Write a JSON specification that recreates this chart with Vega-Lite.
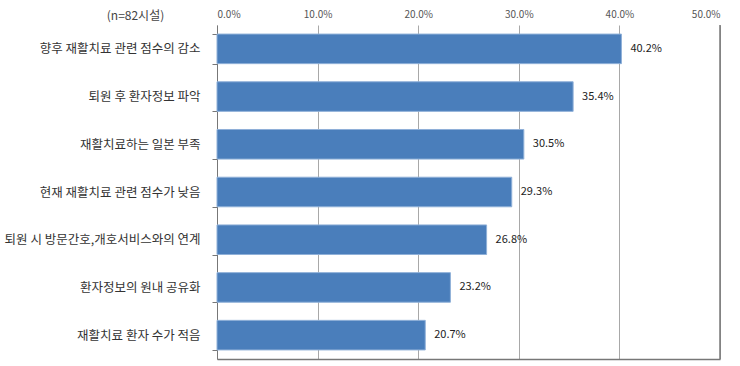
{
  "$schema": "https://vega.github.io/schema/vega-lite/v6.json",
  "autosize": "none",
  "width": 503,
  "height": 334,
  "padding": {"left": 217, "top": 25, "right": 20, "bottom": 7},
  "background": "white",
  "config": {
    "font": "Noto Sans CJK KR",
    "view": {"stroke": null}
  },
  "data": {
    "values": [
      {"item": "향후 재활치료 관련 점수의 감소", "pct": 0.402},
      {"item": "퇴원 후 환자정보 파악", "pct": 0.354},
      {"item": "재활치료하는 일본 부족", "pct": 0.305},
      {"item": "현재 재활치료 관련 점수가 낮음", "pct": 0.293},
      {"item": "퇴원 시 방문간호,개호서비스와의 연계", "pct": 0.268},
      {"item": "환자정보의 원내 공유화", "pct": 0.232},
      {"item": "재활치료 환자 수가 적음", "pct": 0.207}
    ]
  },
  "layer": [
    {
      "mark": {"type": "bar", "color": "#4a7ebb", "stroke": "#8fb0d8", "strokeWidth": 1},
      "encoding": {
        "y": {
          "field": "item", "type": "nominal", "sort": null,
          "scale": {"paddingInner": 0.38, "paddingOuter": 0.19},
          "axis": {
            "title": "(n=82시설)",
            "titleAngle": 0,
            "titleAlign": "center",
            "titleBaseline": "middle",
            "titleX": -82,
            "titleY": -10,
            "titleFontSize": 12,
            "titleFontWeight": "normal",
            "titleColor": "#444",
            "labelFontSize": 12.5,
            "labelColor": "#333",
            "labelPadding": 12,
            "labelLimit": 300,
            "domainColor": "#777",
            "tickColor": "#777",
            "tickSize": 5,
            "tickBand": "extent"
          }
        },
        "x": {
          "field": "pct", "type": "quantitative",
          "scale": {"domain": [0, 0.5]},
          "axis": {
            "orient": "top",
            "title": null,
            "format": ".1%",
            "values": [0, 0.1, 0.2, 0.3, 0.4, 0.5],
            "labelFontSize": 10,
            "labelColor": "#555",
            "labelPadding": 6,
            "ticks": false,
            "domain": false,
            "grid": true,
            "gridColor": "#a8a8a8",
            "gridWidth": 1
          }
        }
      }
    },
    {
      "mark": {"type": "text", "align": "left", "baseline": "middle", "dx": 9, "fontSize": 11, "color": "#222"},
      "encoding": {
        "y": {"field": "item", "type": "nominal", "sort": null},
        "x": {"field": "pct", "type": "quantitative", "axis": null},
        "text": {"field": "pct", "type": "quantitative", "format": ".1%"}
      }
    },
    {
      "data": {"values": [{"v": 0.5}]},
      "mark": {"type": "rule", "color": "#777", "strokeWidth": 1.5},
      "encoding": {
        "x": {
          "field": "v", "type": "quantitative",
          "axis": {
            "orient": "bottom",
            "title": null,
            "labels": false,
            "ticks": false,
            "grid": false,
            "domain": true,
            "domainColor": "#777",
            "domainWidth": 1.5
          }
        }
      }
    }
  ],
  "resolve": {"axis": {"x": "independent"}}
}
